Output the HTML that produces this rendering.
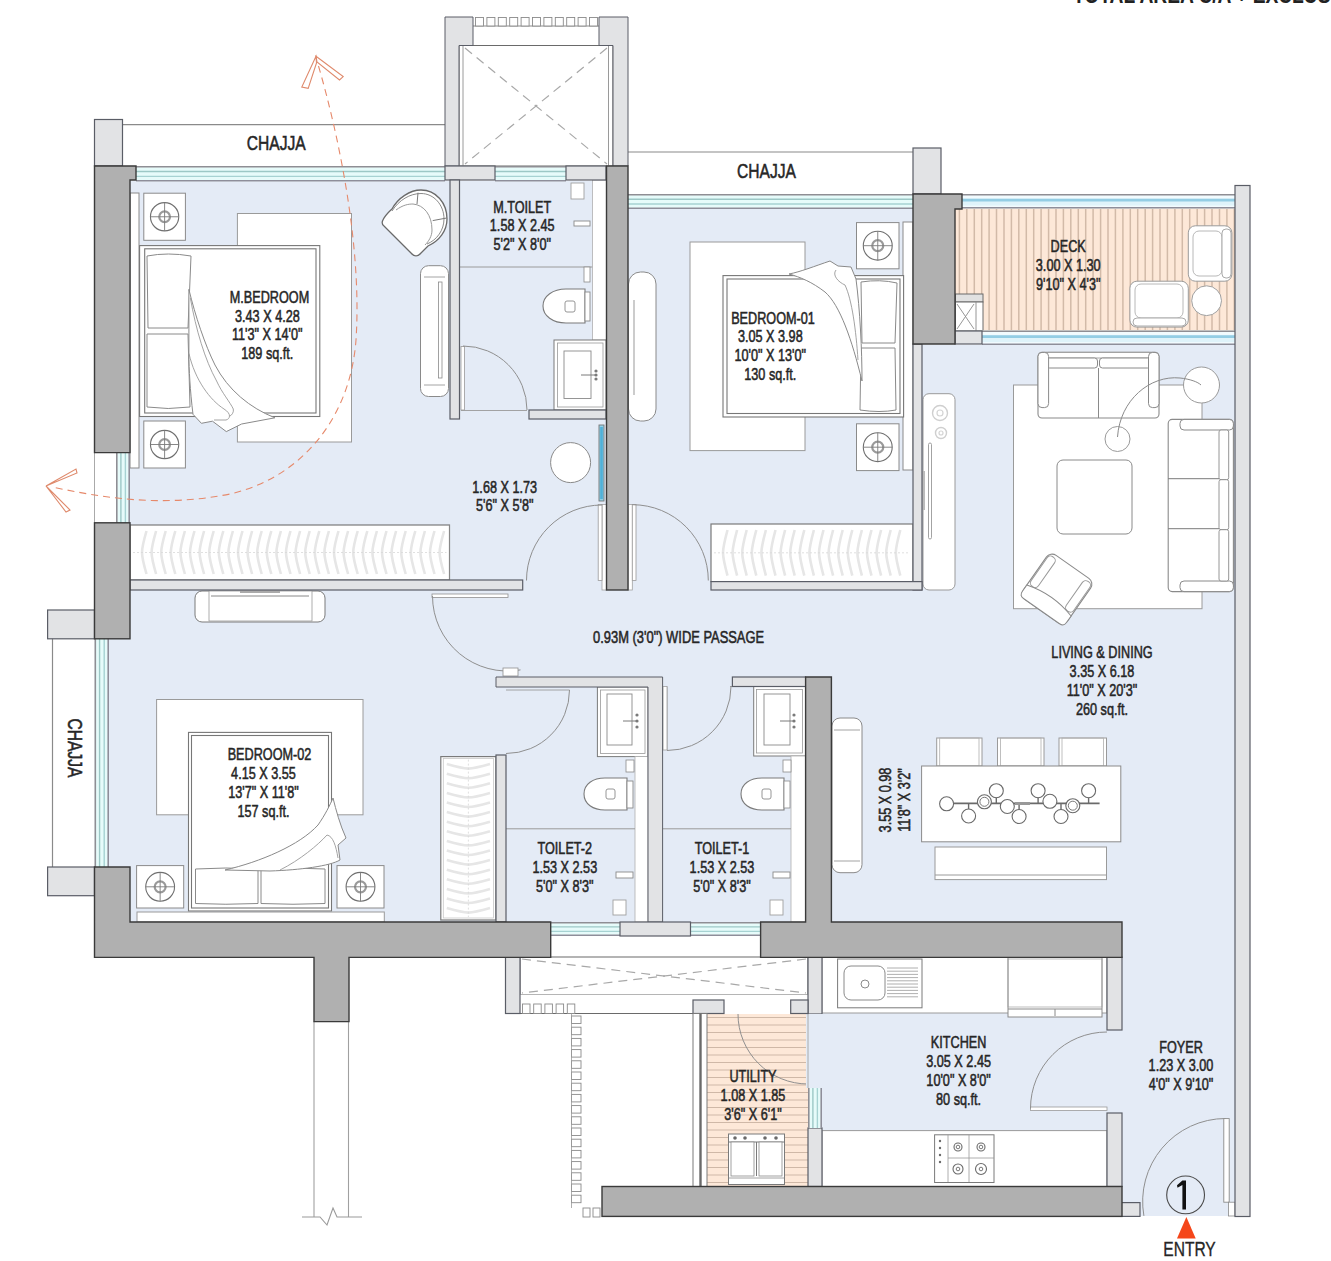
<!DOCTYPE html>
<html><head><meta charset="utf-8"><style>
html,body{margin:0;padding:0;background:#fff;}
svg{display:block;font-family:"Liberation Sans",sans-serif;}
</style></head><body>
<svg width="1331" height="1261" viewBox="0 0 1331 1261">
<rect width="1331" height="1261" fill="#fff"/>
<rect x="130" y="181" width="476" height="409" fill="#e4ebf6" stroke="none" stroke-width="1" />
<rect x="628" y="209" width="285" height="381" fill="#e4ebf6" stroke="none" stroke-width="1" />
<rect x="109" y="590" width="1126" height="332" fill="#e4ebf6" stroke="none" stroke-width="1" />
<rect x="913" y="345" width="322" height="245" fill="#e4ebf6" stroke="none" stroke-width="1" />
<rect x="822" y="957" width="413" height="259" fill="#e4ebf6" stroke="none" stroke-width="1" />
<rect x="1122" y="920" width="113" height="40" fill="#e4ebf6" stroke="none" stroke-width="1" />
<rect x="955" y="208" width="280" height="123" fill="#fde8d8" stroke="none" stroke-width="1" />
<line x1="959.4" y1="209" x2="959.4" y2="330" stroke="#d2baa8" stroke-width="1.5" />
<line x1="966.8" y1="209" x2="966.8" y2="330" stroke="#d2baa8" stroke-width="1.5" />
<line x1="974.3" y1="209" x2="974.3" y2="330" stroke="#d2baa8" stroke-width="1.5" />
<line x1="981.7" y1="209" x2="981.7" y2="330" stroke="#d2baa8" stroke-width="1.5" />
<line x1="989.1" y1="209" x2="989.1" y2="330" stroke="#d2baa8" stroke-width="1.5" />
<line x1="996.5" y1="209" x2="996.5" y2="330" stroke="#d2baa8" stroke-width="1.5" />
<line x1="1004.0" y1="209" x2="1004.0" y2="330" stroke="#d2baa8" stroke-width="1.5" />
<line x1="1011.4" y1="209" x2="1011.4" y2="330" stroke="#d2baa8" stroke-width="1.5" />
<line x1="1018.8" y1="209" x2="1018.8" y2="330" stroke="#d2baa8" stroke-width="1.5" />
<line x1="1026.3" y1="209" x2="1026.3" y2="330" stroke="#d2baa8" stroke-width="1.5" />
<line x1="1033.7" y1="209" x2="1033.7" y2="330" stroke="#d2baa8" stroke-width="1.5" />
<line x1="1041.1" y1="209" x2="1041.1" y2="330" stroke="#d2baa8" stroke-width="1.5" />
<line x1="1048.6" y1="209" x2="1048.6" y2="330" stroke="#d2baa8" stroke-width="1.5" />
<line x1="1056.0" y1="209" x2="1056.0" y2="330" stroke="#d2baa8" stroke-width="1.5" />
<line x1="1063.4" y1="209" x2="1063.4" y2="330" stroke="#d2baa8" stroke-width="1.5" />
<line x1="1070.8" y1="209" x2="1070.8" y2="330" stroke="#d2baa8" stroke-width="1.5" />
<line x1="1078.3" y1="209" x2="1078.3" y2="330" stroke="#d2baa8" stroke-width="1.5" />
<line x1="1085.7" y1="209" x2="1085.7" y2="330" stroke="#d2baa8" stroke-width="1.5" />
<line x1="1093.1" y1="209" x2="1093.1" y2="330" stroke="#d2baa8" stroke-width="1.5" />
<line x1="1100.6" y1="209" x2="1100.6" y2="330" stroke="#d2baa8" stroke-width="1.5" />
<line x1="1108.0" y1="209" x2="1108.0" y2="330" stroke="#d2baa8" stroke-width="1.5" />
<line x1="1115.4" y1="209" x2="1115.4" y2="330" stroke="#d2baa8" stroke-width="1.5" />
<line x1="1122.9" y1="209" x2="1122.9" y2="330" stroke="#d2baa8" stroke-width="1.5" />
<line x1="1130.3" y1="209" x2="1130.3" y2="330" stroke="#d2baa8" stroke-width="1.5" />
<line x1="1137.7" y1="209" x2="1137.7" y2="330" stroke="#d2baa8" stroke-width="1.5" />
<line x1="1145.2" y1="209" x2="1145.2" y2="330" stroke="#d2baa8" stroke-width="1.5" />
<line x1="1152.6" y1="209" x2="1152.6" y2="330" stroke="#d2baa8" stroke-width="1.5" />
<line x1="1160.0" y1="209" x2="1160.0" y2="330" stroke="#d2baa8" stroke-width="1.5" />
<line x1="1167.4" y1="209" x2="1167.4" y2="330" stroke="#d2baa8" stroke-width="1.5" />
<line x1="1174.9" y1="209" x2="1174.9" y2="330" stroke="#d2baa8" stroke-width="1.5" />
<line x1="1182.3" y1="209" x2="1182.3" y2="330" stroke="#d2baa8" stroke-width="1.5" />
<line x1="1189.7" y1="209" x2="1189.7" y2="330" stroke="#d2baa8" stroke-width="1.5" />
<line x1="1197.2" y1="209" x2="1197.2" y2="330" stroke="#d2baa8" stroke-width="1.5" />
<line x1="1204.6" y1="209" x2="1204.6" y2="330" stroke="#d2baa8" stroke-width="1.5" />
<line x1="1212.0" y1="209" x2="1212.0" y2="330" stroke="#d2baa8" stroke-width="1.5" />
<line x1="1219.5" y1="209" x2="1219.5" y2="330" stroke="#d2baa8" stroke-width="1.5" />
<line x1="1226.9" y1="209" x2="1226.9" y2="330" stroke="#d2baa8" stroke-width="1.5" />
<line x1="1234.3" y1="209" x2="1234.3" y2="330" stroke="#d2baa8" stroke-width="1.5" />
<rect x="707" y="1014" width="101" height="172" fill="#fde8d8" stroke="none" stroke-width="1" />
<line x1="707" y1="1017.5" x2="808" y2="1017.5" stroke="#cfb8a7" stroke-width="1.2" />
<line x1="707" y1="1025.0" x2="808" y2="1025.0" stroke="#cfb8a7" stroke-width="1.2" />
<line x1="707" y1="1032.5" x2="808" y2="1032.5" stroke="#cfb8a7" stroke-width="1.2" />
<line x1="707" y1="1040.0" x2="808" y2="1040.0" stroke="#cfb8a7" stroke-width="1.2" />
<line x1="707" y1="1047.5" x2="808" y2="1047.5" stroke="#cfb8a7" stroke-width="1.2" />
<line x1="707" y1="1055.0" x2="808" y2="1055.0" stroke="#cfb8a7" stroke-width="1.2" />
<line x1="707" y1="1062.5" x2="808" y2="1062.5" stroke="#cfb8a7" stroke-width="1.2" />
<line x1="707" y1="1070.0" x2="808" y2="1070.0" stroke="#cfb8a7" stroke-width="1.2" />
<line x1="707" y1="1077.5" x2="808" y2="1077.5" stroke="#cfb8a7" stroke-width="1.2" />
<line x1="707" y1="1085.0" x2="808" y2="1085.0" stroke="#cfb8a7" stroke-width="1.2" />
<line x1="707" y1="1092.5" x2="808" y2="1092.5" stroke="#cfb8a7" stroke-width="1.2" />
<line x1="707" y1="1100.0" x2="808" y2="1100.0" stroke="#cfb8a7" stroke-width="1.2" />
<line x1="707" y1="1107.5" x2="808" y2="1107.5" stroke="#cfb8a7" stroke-width="1.2" />
<line x1="707" y1="1115.0" x2="808" y2="1115.0" stroke="#cfb8a7" stroke-width="1.2" />
<line x1="707" y1="1122.5" x2="808" y2="1122.5" stroke="#cfb8a7" stroke-width="1.2" />
<line x1="707" y1="1130.0" x2="808" y2="1130.0" stroke="#cfb8a7" stroke-width="1.2" />
<line x1="707" y1="1137.5" x2="808" y2="1137.5" stroke="#cfb8a7" stroke-width="1.2" />
<line x1="707" y1="1145.0" x2="808" y2="1145.0" stroke="#cfb8a7" stroke-width="1.2" />
<line x1="707" y1="1152.5" x2="808" y2="1152.5" stroke="#cfb8a7" stroke-width="1.2" />
<line x1="707" y1="1160.0" x2="808" y2="1160.0" stroke="#cfb8a7" stroke-width="1.2" />
<line x1="707" y1="1167.5" x2="808" y2="1167.5" stroke="#cfb8a7" stroke-width="1.2" />
<line x1="707" y1="1175.0" x2="808" y2="1175.0" stroke="#cfb8a7" stroke-width="1.2" />
<line x1="707" y1="1182.5" x2="808" y2="1182.5" stroke="#cfb8a7" stroke-width="1.2" />
<rect x="459" y="45.5" width="154" height="120.5" fill="#ffffff" stroke="#6a6a6a" stroke-width="1" />
<line x1="463" y1="45.5" x2="463" y2="166" stroke="#9a9a9a" stroke-width="1" />
<line x1="608.5" y1="45.5" x2="608.5" y2="166" stroke="#9a9a9a" stroke-width="1" />
<line x1="465" y1="48" x2="607" y2="164" stroke="#a8a8a8" stroke-width="1.2" stroke-dasharray="9,6"/>
<line x1="607" y1="48" x2="465" y2="164" stroke="#a8a8a8" stroke-width="1.2" stroke-dasharray="9,6"/>
<line x1="473" y1="26" x2="599" y2="26" stroke="#8a8a8a" stroke-width="1" />
<rect x="475.5" y="17.5" width="8.0" height="8.5" fill="#ffffff" stroke="#8a8a8a" stroke-width="0.9" />
<rect x="486.9" y="17.5" width="8.0" height="8.5" fill="#ffffff" stroke="#8a8a8a" stroke-width="0.9" />
<rect x="498.3" y="17.5" width="8.0" height="8.5" fill="#ffffff" stroke="#8a8a8a" stroke-width="0.9" />
<rect x="509.7" y="17.5" width="8.0" height="8.5" fill="#ffffff" stroke="#8a8a8a" stroke-width="0.9" />
<rect x="521.1" y="17.5" width="8.0" height="8.5" fill="#ffffff" stroke="#8a8a8a" stroke-width="0.9" />
<rect x="532.5" y="17.5" width="8.0" height="8.5" fill="#ffffff" stroke="#8a8a8a" stroke-width="0.9" />
<rect x="543.9" y="17.5" width="8.0" height="8.5" fill="#ffffff" stroke="#8a8a8a" stroke-width="0.9" />
<rect x="555.3" y="17.5" width="8.0" height="8.5" fill="#ffffff" stroke="#8a8a8a" stroke-width="0.9" />
<rect x="566.7" y="17.5" width="8.0" height="8.5" fill="#ffffff" stroke="#8a8a8a" stroke-width="0.9" />
<rect x="578.1" y="17.5" width="8.0" height="8.5" fill="#ffffff" stroke="#8a8a8a" stroke-width="0.9" />
<rect x="589.5" y="17.5" width="8.0" height="8.5" fill="#ffffff" stroke="#8a8a8a" stroke-width="0.9" />
<rect x="520" y="957" width="288" height="37.5" fill="#ffffff" stroke="#6a6a6a" stroke-width="1" />
<line x1="522" y1="959" x2="806" y2="993" stroke="#a8a8a8" stroke-width="1.2" stroke-dasharray="9,6"/>
<line x1="806" y1="959" x2="522" y2="993" stroke="#a8a8a8" stroke-width="1.2" stroke-dasharray="9,6"/>
<rect x="520" y="994.5" width="288" height="19.0" fill="#ffffff" stroke="none" stroke-width="1" />
<line x1="505.5" y1="1013.5" x2="693" y2="1013.5" stroke="#6a6a6a" stroke-width="1" />
<rect x="522.5" y="1004" width="7.5" height="9.5" fill="#ffffff" stroke="#8a8a8a" stroke-width="0.9" />
<rect x="533.7" y="1004" width="7.5" height="9.5" fill="#ffffff" stroke="#8a8a8a" stroke-width="0.9" />
<rect x="544.9" y="1004" width="7.5" height="9.5" fill="#ffffff" stroke="#8a8a8a" stroke-width="0.9" />
<rect x="556.1" y="1004" width="7.5" height="9.5" fill="#ffffff" stroke="#8a8a8a" stroke-width="0.9" />
<rect x="567.3" y="1004" width="7.5" height="9.5" fill="#ffffff" stroke="#8a8a8a" stroke-width="0.9" />
<rect x="571.5" y="1016" width="9.5" height="7.5" fill="#ffffff" stroke="#8a8a8a" stroke-width="0.9" />
<rect x="571.5" y="1027.2" width="9.5" height="7.5" fill="#ffffff" stroke="#8a8a8a" stroke-width="0.9" />
<rect x="571.5" y="1038.4" width="9.5" height="7.5" fill="#ffffff" stroke="#8a8a8a" stroke-width="0.9" />
<rect x="571.5" y="1049.6" width="9.5" height="7.5" fill="#ffffff" stroke="#8a8a8a" stroke-width="0.9" />
<rect x="571.5" y="1060.8" width="9.5" height="7.5" fill="#ffffff" stroke="#8a8a8a" stroke-width="0.9" />
<rect x="571.5" y="1072.0" width="9.5" height="7.5" fill="#ffffff" stroke="#8a8a8a" stroke-width="0.9" />
<rect x="571.5" y="1083.2" width="9.5" height="7.5" fill="#ffffff" stroke="#8a8a8a" stroke-width="0.9" />
<rect x="571.5" y="1094.4" width="9.5" height="7.5" fill="#ffffff" stroke="#8a8a8a" stroke-width="0.9" />
<rect x="571.5" y="1105.6" width="9.5" height="7.5" fill="#ffffff" stroke="#8a8a8a" stroke-width="0.9" />
<rect x="571.5" y="1116.8" width="9.5" height="7.5" fill="#ffffff" stroke="#8a8a8a" stroke-width="0.9" />
<rect x="571.5" y="1128.0" width="9.5" height="7.5" fill="#ffffff" stroke="#8a8a8a" stroke-width="0.9" />
<rect x="571.5" y="1139.2" width="9.5" height="7.5" fill="#ffffff" stroke="#8a8a8a" stroke-width="0.9" />
<rect x="571.5" y="1150.4" width="9.5" height="7.5" fill="#ffffff" stroke="#8a8a8a" stroke-width="0.9" />
<rect x="571.5" y="1161.6" width="9.5" height="7.5" fill="#ffffff" stroke="#8a8a8a" stroke-width="0.9" />
<rect x="571.5" y="1172.8" width="9.5" height="7.5" fill="#ffffff" stroke="#8a8a8a" stroke-width="0.9" />
<rect x="571.5" y="1184.0" width="9.5" height="7.5" fill="#ffffff" stroke="#8a8a8a" stroke-width="0.9" />
<rect x="571.5" y="1195.2" width="9.5" height="7.5" fill="#ffffff" stroke="#8a8a8a" stroke-width="0.9" />
<rect x="583" y="1208" width="7" height="9" fill="#ffffff" stroke="#8a8a8a" stroke-width="0.9" />
<rect x="593" y="1208" width="7" height="9" fill="#ffffff" stroke="#8a8a8a" stroke-width="0.9" />
<line x1="571.5" y1="1013.5" x2="571.5" y2="1208" stroke="#9a9a9a" stroke-width="0.8" />
<line x1="314" y1="1021.6" x2="314" y2="1217" stroke="#a0a0a0" stroke-width="1.1" />
<line x1="348.5" y1="1021.6" x2="348.5" y2="1217" stroke="#a0a0a0" stroke-width="1.1" />
<path d="M302,1217 L320,1217 L327,1225 L333,1208 L337,1217 L362,1217" fill="none" stroke="#9a9a9a" stroke-width="1.1" />
<rect x="130" y="193" width="9" height="275" fill="#ffffff" stroke="#8a8a8a" stroke-width="1" />
<rect x="237.4" y="213.5" width="114.1" height="228.5" fill="#ffffff" stroke="#9a9a9a" stroke-width="1" />
<rect x="143.8" y="193.2" width="41.6" height="47.1" fill="#ffffff" stroke="#8a8a8a" stroke-width="1" />
<circle cx="164.60000000000002" cy="216.75" r="14.143999999999998" fill="#ffffff" stroke="#6f6f6f" stroke-width="1.1"/>
<circle cx="164.60000000000002" cy="216.75" r="5.374719999999999" fill="none" stroke="#9a9a9a" stroke-width="2.2"/>
<line x1="150.45600000000002" y1="216.75" x2="178.74400000000003" y2="216.75" stroke="#7a7a7a" stroke-width="0.9" />
<line x1="164.60000000000002" y1="202.606" x2="164.60000000000002" y2="230.894" stroke="#7a7a7a" stroke-width="0.9" />
<rect x="143.8" y="421" width="41.6" height="47" fill="#ffffff" stroke="#8a8a8a" stroke-width="1" />
<circle cx="164.60000000000002" cy="444.5" r="14.143999999999998" fill="#ffffff" stroke="#6f6f6f" stroke-width="1.1"/>
<circle cx="164.60000000000002" cy="444.5" r="5.374719999999999" fill="none" stroke="#9a9a9a" stroke-width="2.2"/>
<line x1="150.45600000000002" y1="444.5" x2="178.74400000000003" y2="444.5" stroke="#7a7a7a" stroke-width="0.9" />
<line x1="164.60000000000002" y1="430.356" x2="164.60000000000002" y2="458.644" stroke="#7a7a7a" stroke-width="0.9" />
<rect x="139.6" y="245.6" width="180.2" height="170.9" fill="#ffffff" stroke="#777" stroke-width="1.1" />
<rect x="144.7" y="248.8" width="171.3" height="164.2" fill="#ffffff" stroke="#777" stroke-width="1.1" />
<path d="M147,256 Q168,252 191,256 L188,328 L148,328 Z" fill="#ffffff" stroke="#8a8a8a" stroke-width="1" />
<path d="M147,334 L188,334 L190,407 Q168,410 147,407 Z" fill="#ffffff" stroke="#8a8a8a" stroke-width="1" />
<path d="M188.9,289.4 C195,315 205,345 215,365 C228,390 250,408 274.9,417.8 L241.6,424 L226.3,431.6 L212.5,421.2 L201.4,423.3 L193,414.3 C190,390 189,370 188.9,353.3 Z" fill="#ffffff" stroke="#8a8a8a" stroke-width="1" />
<path d="M188.9,353.3 C195,380 210,400 224,409 C232,414 230,419 226,420 L214,420" fill="none" stroke="#9a9a9a" stroke-width="0.9" />
<path d="M190.3,297.8 C196,330 205,360 216.6,381 C222,393 230,402 233.3,409 C234,412 232,415 230,416" fill="none" stroke="#9a9a9a" stroke-width="0.9" />
<path d="M382.5,221 C385,215 390,211 392,209 C398,198 410,190 421,190 C436,190 447,203 447,219 C447,231 439,241 428,246 L420,254 C418,256.5 414,256.5 412,254 L384,226 C382,224.5 382,222.5 382.5,221 Z" fill="#ffffff" stroke="#6a6a6a" stroke-width="1.3" />
<path d="M392,211 C399,200 410,193.5 421,193.5 C434,193.5 444,205 444,219 C444,230 437,240 427,244" fill="none" stroke="#8a8a8a" stroke-width="1" />
<path d="M396,210 C403,205 408,204 413,204 C424,205 432,215 432,230 C432,236 429,241 425,245" fill="none" stroke="#9a9a9a" stroke-width="1" />
<line x1="418" y1="192.7" x2="417" y2="204" stroke="#7a7a7a" stroke-width="1" />
<line x1="432.7" y1="220.6" x2="446.7" y2="218" stroke="#7a7a7a" stroke-width="1" />
<rect x="420.5" y="265.7" width="28.0" height="130.8" rx="8" fill="#ffffff" stroke="#8a8a8a" stroke-width="1"/>
<line x1="424" y1="277" x2="445" y2="277" stroke="#9a9a9a" stroke-width="0.9" />
<line x1="424" y1="385" x2="445" y2="385" stroke="#9a9a9a" stroke-width="0.9" />
<rect x="438.5" y="282" width="3.5" height="96" fill="none" stroke="#8a8a8a" stroke-width="0.8" />
<line x1="459" y1="267" x2="593" y2="267" stroke="#9a9a9a" stroke-width="1" />
<rect x="592.5" y="180" width="14.0" height="160" fill="#ffffff" stroke="#b0b0b0" stroke-width="0.8" />
<rect x="571" y="183" width="13" height="16" fill="#ffffff" stroke="#a0a0a0" stroke-width="0.9" />
<rect x="574" y="221" width="16" height="5" fill="#ffffff" stroke="#8a8a8a" stroke-width="0.9" />
<path d="M543,306 C543,296 553,289 566,289 L585,289 L585,323 L566,323 C553,323 543,316 543,306 Z" fill="#ffffff" stroke="#7a7a7a" stroke-width="1.1" />
<rect x="565" y="301" width="10" height="11" rx="2" fill="none" stroke="#8a8a8a" stroke-width="0.9"/>
<rect x="585" y="292" width="5" height="29" fill="#ffffff" stroke="#8a8a8a" stroke-width="0.9" />
<rect x="584" y="267" width="6" height="15" fill="#ffffff" stroke="#8a8a8a" stroke-width="0.8" />
<rect x="554" y="340" width="52" height="70" fill="#ffffff" stroke="#7a7a7a" stroke-width="1" />
<rect x="557.5" y="343" width="45.5" height="64" fill="#ffffff" stroke="#9a9a9a" stroke-width="0.8" />
<rect x="564" y="351" width="27" height="47.5" fill="#ffffff" stroke="#8a8a8a" stroke-width="0.9" />
<line x1="581" y1="375" x2="596" y2="375" stroke="#7a7a7a" stroke-width="1" />
<circle cx="596" cy="371" r="1.6" fill="#7a7a7a" stroke="none" stroke-width="1"/>
<circle cx="596" cy="375" r="1.6" fill="#7a7a7a" stroke="none" stroke-width="1"/>
<circle cx="596" cy="379" r="1.6" fill="#7a7a7a" stroke="none" stroke-width="1"/>
<line x1="463" y1="346.5" x2="463" y2="410" stroke="#8f8f8f" stroke-width="1" />
<rect x="461" y="346.5" width="3.5" height="63.5" fill="#ffffff" stroke="#9a9a9a" stroke-width="0.8" />
<path d="M463.0,346.0 A64,64 0 0 1 527.0,410.0" fill="none" stroke="#8f8f8f" stroke-width="1" />
<line x1="461" y1="410.5" x2="527" y2="410.5" stroke="#9a9a9a" stroke-width="0.9" />
<circle cx="570.6" cy="462.6" r="20" fill="#ffffff" stroke="#8a8a8a" stroke-width="1"/>
<rect x="599" y="425" width="5" height="76" fill="#8fd0e8" stroke="#777" stroke-width="0.9" />
<rect x="600.2" y="427" width="2.6" height="72" fill="#4fb0d8" stroke="none" stroke-width="1" />
<rect x="602" y="504.5" width="4.5" height="85.5" fill="#ffffff" stroke="#a0a0a0" stroke-width="0.8" />
<rect x="598.2" y="504.5" width="3.8" height="76.0" fill="#ffffff" stroke="#9a9a9a" stroke-width="0.8" />
<path d="M526.5,580.5 A75.5,75.5 0 0 1 602.0,505.0" fill="none" stroke="#8f8f8f" stroke-width="1" />
<rect x="628" y="504.5" width="4.3" height="85.5" fill="#ffffff" stroke="#a0a0a0" stroke-width="0.8" />
<rect x="632.3" y="504.5" width="3.7" height="76.0" fill="#ffffff" stroke="#9a9a9a" stroke-width="0.8" />
<path d="M632.5,504.7 A75.8,75.8 0 0 1 708.3,580.5" fill="none" stroke="#8f8f8f" stroke-width="1" />
<rect x="130" y="525" width="319.5" height="55" fill="#ffffff" stroke="#7a7a7a" stroke-width="1.2" />
<path d="M146.5,531 Q142.0,546.5 142.0,552.5 Q142.0,558.5 146.5,574 M156.1,531 Q151.6,546.5 151.6,552.5 Q151.6,558.5 156.1,574 M165.7,531 Q161.2,546.5 161.2,552.5 Q161.2,558.5 165.7,574 M175.3,531 Q170.8,546.5 170.8,552.5 Q170.8,558.5 175.3,574 M184.9,531 Q180.4,546.5 180.4,552.5 Q180.4,558.5 184.9,574 M194.5,531 Q190.0,546.5 190.0,552.5 Q190.0,558.5 194.5,574 M204.1,531 Q199.6,546.5 199.6,552.5 Q199.6,558.5 204.1,574 M213.7,531 Q209.2,546.5 209.2,552.5 Q209.2,558.5 213.7,574 M223.3,531 Q218.8,546.5 218.8,552.5 Q218.8,558.5 223.3,574 M232.9,531 Q228.4,546.5 228.4,552.5 Q228.4,558.5 232.9,574 M242.5,531 Q238.0,546.5 238.0,552.5 Q238.0,558.5 242.5,574 M252.1,531 Q247.6,546.5 247.6,552.5 Q247.6,558.5 252.1,574 M261.7,531 Q257.2,546.5 257.2,552.5 Q257.2,558.5 261.7,574 M271.3,531 Q266.8,546.5 266.8,552.5 Q266.8,558.5 271.3,574 M280.9,531 Q276.4,546.5 276.4,552.5 Q276.4,558.5 280.9,574 M290.5,531 Q286.0,546.5 286.0,552.5 Q286.0,558.5 290.5,574 M300.1,531 Q295.6,546.5 295.6,552.5 Q295.6,558.5 300.1,574 M309.7,531 Q305.2,546.5 305.2,552.5 Q305.2,558.5 309.7,574 M319.3,531 Q314.8,546.5 314.8,552.5 Q314.8,558.5 319.3,574 M328.9,531 Q324.4,546.5 324.4,552.5 Q324.4,558.5 328.9,574 M338.5,531 Q334.0,546.5 334.0,552.5 Q334.0,558.5 338.5,574 M348.1,531 Q343.6,546.5 343.6,552.5 Q343.6,558.5 348.1,574 M357.7,531 Q353.2,546.5 353.2,552.5 Q353.2,558.5 357.7,574 M367.3,531 Q362.8,546.5 362.8,552.5 Q362.8,558.5 367.3,574 M376.9,531 Q372.4,546.5 372.4,552.5 Q372.4,558.5 376.9,574 M386.5,531 Q382.0,546.5 382.0,552.5 Q382.0,558.5 386.5,574 M396.1,531 Q391.6,546.5 391.6,552.5 Q391.6,558.5 396.1,574 M405.7,531 Q401.2,546.5 401.2,552.5 Q401.2,558.5 405.7,574 M415.3,531 Q410.8,546.5 410.8,552.5 Q410.8,558.5 415.3,574 M424.9,531 Q420.4,546.5 420.4,552.5 Q420.4,558.5 424.9,574 M434.5,531 Q430.0,546.5 430.0,552.5 Q430.0,558.5 434.5,574 M444.1,531 Q439.6,546.5 439.6,552.5 Q439.6,558.5 444.1,574 " fill="none" stroke="#e6e6e6" stroke-width="2.6" />
<line x1="133" y1="552.5" x2="446.5" y2="552.5" stroke="#d8d8d8" stroke-width="0.8" stroke-dasharray="2,2"/>
<line x1="449.5" y1="580" x2="449.5" y2="525" stroke="#888" stroke-width="1" />
<rect x="195" y="591" width="130" height="31" rx="7" fill="#ffffff" stroke="#7a7a7a" stroke-width="1"/>
<rect x="209" y="591" width="103" height="30" fill="#ffffff" stroke="#9a9a9a" stroke-width="0.8" />
<line x1="211" y1="596" x2="309" y2="596" stroke="#888" stroke-width="1" />
<rect x="240" y="590" width="40" height="3" fill="#aaa" stroke="none" stroke-width="1" />
<rect x="432" y="594" width="76" height="3.5" fill="#ffffff" stroke="#8f8f8f" stroke-width="0.8" />
<path d="M520.5,669.9 A75,75 0 0 1 432.5,596.0" fill="none" stroke="#8f8f8f" stroke-width="1" />
<rect x="503" y="668" width="15" height="8" fill="#ffffff" stroke="#8f8f8f" stroke-width="0.8" />
<rect x="690" y="242" width="115" height="208.6" fill="#ffffff" stroke="#9a9a9a" stroke-width="1" />
<rect x="903" y="222" width="10" height="248" fill="#ffffff" stroke="#8a8a8a" stroke-width="1" />
<rect x="856.5" y="222.6" width="42.5" height="46.2" fill="#ffffff" stroke="#8a8a8a" stroke-width="1" />
<circle cx="877.75" cy="245.7" r="14.450000000000001" fill="#ffffff" stroke="#6f6f6f" stroke-width="1.1"/>
<circle cx="877.75" cy="245.7" r="5.4910000000000005" fill="none" stroke="#9a9a9a" stroke-width="2.2"/>
<line x1="863.3" y1="245.7" x2="892.2" y2="245.7" stroke="#7a7a7a" stroke-width="0.9" />
<line x1="877.75" y1="231.25" x2="877.75" y2="260.15" stroke="#7a7a7a" stroke-width="0.9" />
<rect x="856.5" y="423.8" width="42.5" height="46.8" fill="#ffffff" stroke="#8a8a8a" stroke-width="1" />
<circle cx="877.75" cy="447.20000000000005" r="14.450000000000001" fill="#ffffff" stroke="#6f6f6f" stroke-width="1.1"/>
<circle cx="877.75" cy="447.20000000000005" r="5.4910000000000005" fill="none" stroke="#9a9a9a" stroke-width="2.2"/>
<line x1="863.3" y1="447.20000000000005" x2="892.2" y2="447.20000000000005" stroke="#7a7a7a" stroke-width="0.9" />
<line x1="877.75" y1="432.75000000000006" x2="877.75" y2="461.65000000000003" stroke="#7a7a7a" stroke-width="0.9" />
<rect x="723" y="275.6" width="180.6" height="141.4" fill="#ffffff" stroke="#777" stroke-width="1.1" />
<rect x="727" y="279" width="173" height="134.5" fill="#ffffff" stroke="#777" stroke-width="1.1" />
<path d="M861,282 Q880,279 897,283 L895,343 L862,343 Z" fill="#ffffff" stroke="#8a8a8a" stroke-width="1" />
<path d="M861,348 L895,348 L896,410 Q880,413 860,410 Z" fill="#ffffff" stroke="#8a8a8a" stroke-width="1" />
<path d="M789,274 C800,272 815,266 830,261 L838,266 L851,267 L856,279 C860,310 862,350 862,381 C852,340 840,305 825,292 C812,282 800,277 789,274 Z" fill="#ffffff" stroke="#8a8a8a" stroke-width="1" />
<path d="M836,270 C832,275 838,282 845,285 C852,300 856,330 858,360" fill="none" stroke="#999" stroke-width="0.9" />
<rect x="628.5" y="272" width="27.5" height="149" rx="12" fill="#ffffff" stroke="#8a8a8a" stroke-width="1"/>
<line x1="634" y1="300" x2="634" y2="395" stroke="#999" stroke-width="1" />
<rect x="711" y="524" width="202" height="57.6" fill="#ffffff" stroke="#7a7a7a" stroke-width="1.2" />
<path d="M727.5,530 Q723.0,546.8 723.0,552.8 Q723.0,558.8 727.5,575.6 M737.1,530 Q732.6,546.8 732.6,552.8 Q732.6,558.8 737.1,575.6 M746.7,530 Q742.2,546.8 742.2,552.8 Q742.2,558.8 746.7,575.6 M756.3,530 Q751.8,546.8 751.8,552.8 Q751.8,558.8 756.3,575.6 M765.9,530 Q761.4,546.8 761.4,552.8 Q761.4,558.8 765.9,575.6 M775.5,530 Q771.0,546.8 771.0,552.8 Q771.0,558.8 775.5,575.6 M785.1,530 Q780.6,546.8 780.6,552.8 Q780.6,558.8 785.1,575.6 M794.7,530 Q790.2,546.8 790.2,552.8 Q790.2,558.8 794.7,575.6 M804.3,530 Q799.8,546.8 799.8,552.8 Q799.8,558.8 804.3,575.6 M813.9,530 Q809.4,546.8 809.4,552.8 Q809.4,558.8 813.9,575.6 M823.5,530 Q819.0,546.8 819.0,552.8 Q819.0,558.8 823.5,575.6 M833.1,530 Q828.6,546.8 828.6,552.8 Q828.6,558.8 833.1,575.6 M842.7,530 Q838.2,546.8 838.2,552.8 Q838.2,558.8 842.7,575.6 M852.3,530 Q847.8,546.8 847.8,552.8 Q847.8,558.8 852.3,575.6 M861.9,530 Q857.4,546.8 857.4,552.8 Q857.4,558.8 861.9,575.6 M871.5,530 Q867.0,546.8 867.0,552.8 Q867.0,558.8 871.5,575.6 M881.1,530 Q876.6,546.8 876.6,552.8 Q876.6,558.8 881.1,575.6 M890.7,530 Q886.2,546.8 886.2,552.8 Q886.2,558.8 890.7,575.6 M900.3,530 Q895.8,546.8 895.8,552.8 Q895.8,558.8 900.3,575.6 " fill="none" stroke="#e6e6e6" stroke-width="2.6" />
<line x1="714" y1="552.8" x2="910" y2="552.8" stroke="#d8d8d8" stroke-width="0.8" stroke-dasharray="2,2"/>
<rect x="955.5" y="294" width="27.5" height="8" fill="#e1e1e1" stroke="#6a6a6a" stroke-width="1" />
<rect x="955.5" y="302" width="27.5" height="29" fill="#ffffff" stroke="#6a6a6a" stroke-width="1" />
<line x1="957" y1="304" x2="974" y2="329" stroke="#8a8a8a" stroke-width="0.9" />
<line x1="974" y1="304" x2="957" y2="329" stroke="#8a8a8a" stroke-width="0.9" />
<line x1="976" y1="302" x2="976" y2="331" stroke="#8a8a8a" stroke-width="0.9" />
<rect x="1188.3" y="225.8" width="43.6" height="55.4" rx="7" fill="#ffffff" stroke="#9a9a9a" stroke-width="1"/>
<rect x="1193" y="231" width="29" height="45" rx="6" fill="#ffffff" stroke="#b0b0b0" stroke-width="0.9"/>
<rect x="1222" y="229" width="9" height="49" rx="4" fill="#ffffff" stroke="#a0a0a0" stroke-width="0.9"/>
<rect x="1129.9" y="281.2" width="58.4" height="45.9" rx="7" fill="#ffffff" stroke="#9a9a9a" stroke-width="1"/>
<rect x="1135" y="284" width="48" height="34" rx="6" fill="#ffffff" stroke="#b0b0b0" stroke-width="0.9"/>
<rect x="1133" y="318" width="53" height="8" rx="4" fill="#ffffff" stroke="#a0a0a0" stroke-width="0.9"/>
<circle cx="1206.6" cy="300.7" r="14.9" fill="#ffffff" stroke="#a0a0a0" stroke-width="1"/>
<rect x="923" y="393.7" width="32" height="196.3" rx="6" fill="#ffffff" stroke="#9a9a9a" stroke-width="1"/>
<circle cx="940" cy="413" r="7.5" fill="none" stroke="#cfcfcf" stroke-width="1.4"/>
<circle cx="940" cy="413" r="3" fill="none" stroke="#d4d4d4" stroke-width="1.2"/>
<circle cx="941" cy="433" r="5.5" fill="none" stroke="#cfcfcf" stroke-width="1.4"/>
<circle cx="941" cy="433" r="2" fill="none" stroke="#d4d4d4" stroke-width="1.2"/>
<rect x="928.5" y="443" width="3.0" height="96" rx="1.5" fill="#ffffff" stroke="#999" stroke-width="0.9"/>
<rect x="922" y="471" width="3" height="39" fill="#bbb" stroke="none" stroke-width="1" />
<rect x="1013.5" y="385" width="188.5" height="223.7" fill="#ffffff" stroke="#9a9a9a" stroke-width="1" />
<rect x="1038" y="352.4" width="121" height="65.6" rx="4" fill="#ffffff" stroke="#8a8a8a" stroke-width="1.1"/>
<rect x="1046" y="352.4" width="105" height="5.6" rx="2" fill="#ffffff" stroke="#9a9a9a" stroke-width="0.9"/>
<rect x="1046.5" y="358" width="51.0" height="10" rx="3" fill="#ffffff" stroke="#8a8a8a" stroke-width="1"/>
<rect x="1099.5" y="358" width="51.0" height="10" rx="3" fill="#ffffff" stroke="#8a8a8a" stroke-width="1"/>
<rect x="1038" y="352.4" width="10.6" height="55.2" rx="4" fill="#ffffff" stroke="#8a8a8a" stroke-width="1"/>
<rect x="1148.5" y="352.4" width="10.5" height="55.2" rx="4" fill="#ffffff" stroke="#8a8a8a" stroke-width="1"/>
<line x1="1098.5" y1="368" x2="1098.5" y2="418" stroke="#8a8a8a" stroke-width="1" />
<rect x="1168.2" y="419.4" width="65.2" height="172.2" rx="4" fill="#ffffff" stroke="#8a8a8a" stroke-width="1.1"/>
<rect x="1180" y="419.4" width="53.4" height="10.6" rx="4" fill="#ffffff" stroke="#8a8a8a" stroke-width="1"/>
<rect x="1180" y="581" width="53.4" height="10.6" rx="4" fill="#ffffff" stroke="#8a8a8a" stroke-width="1"/>
<rect x="1219" y="430" width="9.7" height="49.7" rx="2" fill="#ffffff" stroke="#8a8a8a" stroke-width="0.9"/>
<rect x="1219" y="479.7" width="9.7" height="50.0" rx="2" fill="#ffffff" stroke="#8a8a8a" stroke-width="0.9"/>
<rect x="1219" y="529.7" width="9.7" height="51.3" rx="2" fill="#ffffff" stroke="#8a8a8a" stroke-width="0.9"/>
<line x1="1168.2" y1="478.7" x2="1219" y2="478.7" stroke="#7a7a7a" stroke-width="1" />
<line x1="1168.2" y1="528.7" x2="1219" y2="528.7" stroke="#7a7a7a" stroke-width="1" />
<rect x="1057" y="460" width="75" height="74" rx="6" fill="#ffffff" stroke="#8a8a8a" stroke-width="1"/>
<circle cx="1201.5" cy="385" r="18" fill="#ffffff" stroke="#9a9a9a" stroke-width="1"/>
<circle cx="1117.5" cy="439" r="12.5" fill="#ffffff" stroke="#9a9a9a" stroke-width="1"/>
<path d="M1117.5,437 C1120,400 1150,375 1180,378 C1190,379 1198,382 1201,385" fill="none" stroke="#8a8a8a" stroke-width="1" />
<g transform="translate(1057,589) rotate(35)">
<rect x="-27" y="-27" width="54" height="54" rx="7" fill="#ffffff" stroke="#8a8a8a" stroke-width="1.1"/>
<rect x="-26" y="-24" width="9" height="36" rx="4" fill="#ffffff" stroke="#9a9a9a" stroke-width="1"/>
<rect x="17" y="-24" width="9" height="36" rx="4" fill="#ffffff" stroke="#9a9a9a" stroke-width="1"/>
<path d="M-27,14 C-10,9 10,9 27,14 L27,22 C27,25 25,27 22,27 L-22,27 C-25,27 -27,25 -27,22 Z" fill="#ffffff" stroke="#8a8a8a" stroke-width="1" />
</g>
<rect x="832" y="718" width="30" height="154.7" rx="8" fill="#ffffff" stroke="#8a8a8a" stroke-width="1"/>
<line x1="834" y1="730" x2="860" y2="730" stroke="#999" stroke-width="0.9" />
<line x1="834" y1="861" x2="860" y2="861" stroke="#999" stroke-width="0.9" />
<rect x="936.7" y="738" width="45.3" height="28" fill="#ffffff" stroke="#9a9a9a" stroke-width="1" />
<rect x="939.7" y="738" width="39.3" height="28" fill="none" stroke="#b0b0b0" stroke-width="0.8" />
<rect x="997.5" y="738" width="46.5" height="28" fill="#ffffff" stroke="#9a9a9a" stroke-width="1" />
<rect x="1000.5" y="738" width="40.5" height="28" fill="none" stroke="#b0b0b0" stroke-width="0.8" />
<rect x="1059" y="738" width="47.5" height="28" fill="#ffffff" stroke="#9a9a9a" stroke-width="1" />
<rect x="1062" y="738" width="41.5" height="28" fill="none" stroke="#b0b0b0" stroke-width="0.8" />
<rect x="921.6" y="766" width="199.2" height="75.8" fill="#ffffff" stroke="#8a8a8a" stroke-width="1" />
<rect x="935" y="847" width="171.5" height="32.6" fill="#ffffff" stroke="#9a9a9a" stroke-width="1" />
<line x1="935" y1="875" x2="1106.5" y2="875" stroke="#9a9a9a" stroke-width="1" />
<line x1="953.7" y1="803.4" x2="1099.6" y2="803.4" stroke="#6a6a6a" stroke-width="1.6" />
<line x1="968.6" y1="816" x2="968.6" y2="803.4" stroke="#6a6a6a" stroke-width="1.4" />
<line x1="996.3" y1="790.7" x2="996.3" y2="803.4" stroke="#6a6a6a" stroke-width="1.4" />
<line x1="1019.1" y1="816.5" x2="1019.1" y2="803.4" stroke="#6a6a6a" stroke-width="1.4" />
<line x1="1038.1" y1="790.7" x2="1038.1" y2="803.4" stroke="#6a6a6a" stroke-width="1.4" />
<line x1="1061" y1="816.5" x2="1061" y2="803.4" stroke="#6a6a6a" stroke-width="1.4" />
<line x1="1088.6" y1="790.7" x2="1088.6" y2="803.4" stroke="#6a6a6a" stroke-width="1.4" />
<circle cx="946.6" cy="803.8" r="7" fill="#ffffff" stroke="#6a6a6a" stroke-width="1.1"/>
<circle cx="968.6" cy="816" r="7" fill="#ffffff" stroke="#6a6a6a" stroke-width="1.1"/>
<circle cx="996.3" cy="790.7" r="7" fill="#ffffff" stroke="#6a6a6a" stroke-width="1.1"/>
<circle cx="984.4" cy="801.8" r="7" fill="#ffffff" stroke="#6a6a6a" stroke-width="1.1"/>
<circle cx="1007.3" cy="806.5" r="7" fill="#ffffff" stroke="#6a6a6a" stroke-width="1.1"/>
<circle cx="1019.1" cy="816.5" r="7" fill="#ffffff" stroke="#6a6a6a" stroke-width="1.1"/>
<circle cx="1038.1" cy="790.7" r="7" fill="#ffffff" stroke="#6a6a6a" stroke-width="1.1"/>
<circle cx="1049.9" cy="801.3" r="7" fill="#ffffff" stroke="#6a6a6a" stroke-width="1.1"/>
<circle cx="1061" cy="816.5" r="7" fill="#ffffff" stroke="#6a6a6a" stroke-width="1.1"/>
<circle cx="1072.8" cy="805.7" r="7" fill="#ffffff" stroke="#6a6a6a" stroke-width="1.1"/>
<circle cx="1088.6" cy="790.7" r="7" fill="#ffffff" stroke="#6a6a6a" stroke-width="1.1"/>
<circle cx="984.4" cy="801.8" r="4.5" fill="none" stroke="#7a7a7a" stroke-width="1"/>
<circle cx="1072.8" cy="805.7" r="4.5" fill="none" stroke="#7a7a7a" stroke-width="1"/>
<rect x="1015" y="802" width="15" height="3" fill="#999" stroke="none" stroke-width="1" />
<rect x="597.4" y="687" width="50.6" height="69.6" fill="#ffffff" stroke="#7a7a7a" stroke-width="1" />
<rect x="600.5" y="690" width="44.5" height="63.5" fill="#ffffff" stroke="#9a9a9a" stroke-width="0.8" />
<rect x="607" y="694" width="25" height="51" fill="#ffffff" stroke="#8a8a8a" stroke-width="0.9" />
<line x1="623" y1="721" x2="637" y2="721" stroke="#7a7a7a" stroke-width="1" />
<circle cx="637" cy="715" r="1.6" fill="#7a7a7a" stroke="none" stroke-width="1"/>
<circle cx="637" cy="721" r="1.6" fill="#7a7a7a" stroke="none" stroke-width="1"/>
<circle cx="637" cy="727" r="1.6" fill="#7a7a7a" stroke="none" stroke-width="1"/>
<rect x="635" y="756.6" width="13" height="165.4" fill="#ffffff" stroke="#b0b0b0" stroke-width="0.8" />
<line x1="506" y1="828.8" x2="635" y2="828.8" stroke="#9a9a9a" stroke-width="1" />
<path d="M584,794 C584,784 593,778 605,778 L627,778 L627,810 L605,810 C593,810 584,804 584,794 Z" fill="#ffffff" stroke="#7a7a7a" stroke-width="1.1" />
<rect x="606" y="789" width="9" height="10" rx="2" fill="none" stroke="#8a8a8a" stroke-width="0.9"/>
<rect x="627" y="781" width="6" height="27" fill="#ffffff" stroke="#8a8a8a" stroke-width="0.9" />
<rect x="626" y="760" width="8" height="12" fill="#ffffff" stroke="#8a8a8a" stroke-width="0.8" />
<rect x="616" y="872" width="17" height="6" fill="#ffffff" stroke="#8a8a8a" stroke-width="0.9" />
<rect x="613" y="900" width="13" height="15" fill="#ffffff" stroke="#a0a0a0" stroke-width="0.9" />
<line x1="506" y1="690" x2="569.5" y2="690" stroke="#9a9a9a" stroke-width="0.9" />
<path d="M569.5,690.0 A63.5,63.5 0 0 1 506.0,753.5" fill="none" stroke="#8f8f8f" stroke-width="1" />
<rect x="753.7" y="686.5" width="51.9" height="69.5" fill="#ffffff" stroke="#7a7a7a" stroke-width="1" />
<rect x="756.5" y="689.5" width="46.0" height="63.5" fill="#ffffff" stroke="#9a9a9a" stroke-width="0.8" />
<rect x="764" y="694" width="26" height="51" fill="#ffffff" stroke="#8a8a8a" stroke-width="0.9" />
<line x1="780" y1="721" x2="794" y2="721" stroke="#7a7a7a" stroke-width="1" />
<circle cx="794" cy="715" r="1.6" fill="#7a7a7a" stroke="none" stroke-width="1"/>
<circle cx="794" cy="721" r="1.6" fill="#7a7a7a" stroke="none" stroke-width="1"/>
<circle cx="794" cy="727" r="1.6" fill="#7a7a7a" stroke="none" stroke-width="1"/>
<rect x="791" y="756" width="14.6" height="166" fill="#ffffff" stroke="#b0b0b0" stroke-width="0.8" />
<line x1="662.4" y1="828.8" x2="791" y2="828.8" stroke="#9a9a9a" stroke-width="1" />
<path d="M741,794 C741,784 750,778 762,778 L784,778 L784,810 L762,810 C750,810 741,804 741,794 Z" fill="#ffffff" stroke="#7a7a7a" stroke-width="1.1" />
<rect x="762" y="789" width="9" height="10" rx="2" fill="none" stroke="#8a8a8a" stroke-width="0.9"/>
<rect x="784" y="781" width="6" height="27" fill="#ffffff" stroke="#8a8a8a" stroke-width="0.8" />
<rect x="783" y="760" width="8" height="12" fill="#ffffff" stroke="#8a8a8a" stroke-width="0.8" />
<rect x="773" y="872" width="17" height="6" fill="#ffffff" stroke="#8a8a8a" stroke-width="0.9" />
<rect x="770" y="900" width="13" height="15" fill="#ffffff" stroke="#a0a0a0" stroke-width="0.9" />
<line x1="667" y1="686.5" x2="667" y2="750" stroke="#9a9a9a" stroke-width="0.9" />
<rect x="663" y="686.5" width="4" height="63.5" fill="#ffffff" stroke="#a0a0a0" stroke-width="0.8" />
<path d="M731.0,686.5 A64,64 0 0 1 667.0,750.5" fill="none" stroke="#8f8f8f" stroke-width="1" />
<line x1="730" y1="686.5" x2="732.4" y2="686.5" stroke="#9a9a9a" stroke-width="1" />
<rect x="156.6" y="699.5" width="206.4" height="115.3" fill="#ffffff" stroke="#9a9a9a" stroke-width="1" />
<rect x="188.5" y="732.4" width="143.0" height="178.6" fill="#ffffff" stroke="#777" stroke-width="1.1" />
<rect x="191.5" y="735.5" width="137.0" height="172.5" fill="#ffffff" stroke="#777" stroke-width="1.1" />
<path d="M195.5,869 Q225,867 258,869 L258,903.5 Q225,905 195.5,903.5 Z" fill="#ffffff" stroke="#8a8a8a" stroke-width="1" />
<path d="M261,869 Q293,867 325,869 L325,903.5 Q293,905 261,903.5 Z" fill="#ffffff" stroke="#8a8a8a" stroke-width="1" />
<path d="M225,870 C260,862 300,845 318,825 C325,815 330,805 333,798 C336,810 340,825 346,838 L338,845 L340,860 C330,866 300,870 270,871 Z" fill="#ffffff" stroke="#8a8a8a" stroke-width="1" />
<path d="M280,870 C300,860 318,845 327,835 C333,836 336,846 338,858" fill="none" stroke="#999" stroke-width="0.9" />
<rect x="136.6" y="865.6" width="47.1" height="42.4" fill="#ffffff" stroke="#8a8a8a" stroke-width="1" />
<circle cx="160.14999999999998" cy="886.8" r="14.415999999999993" fill="#ffffff" stroke="#6f6f6f" stroke-width="1.1"/>
<circle cx="160.14999999999998" cy="886.8" r="5.478079999999998" fill="none" stroke="#9a9a9a" stroke-width="2.2"/>
<line x1="145.73399999999998" y1="886.8" x2="174.56599999999997" y2="886.8" stroke="#7a7a7a" stroke-width="0.9" />
<line x1="160.14999999999998" y1="872.384" x2="160.14999999999998" y2="901.2159999999999" stroke="#7a7a7a" stroke-width="0.9" />
<rect x="337" y="865.6" width="47" height="42.4" fill="#ffffff" stroke="#8a8a8a" stroke-width="1" />
<circle cx="360.5" cy="886.8" r="14.415999999999993" fill="#ffffff" stroke="#6f6f6f" stroke-width="1.1"/>
<circle cx="360.5" cy="886.8" r="5.478079999999998" fill="none" stroke="#9a9a9a" stroke-width="2.2"/>
<line x1="346.084" y1="886.8" x2="374.916" y2="886.8" stroke="#7a7a7a" stroke-width="0.9" />
<line x1="360.5" y1="872.384" x2="360.5" y2="901.2159999999999" stroke="#7a7a7a" stroke-width="0.9" />
<rect x="137" y="912" width="247.3" height="10" fill="#ffffff" stroke="#9a9a9a" stroke-width="1" />
<rect x="440.8" y="756.6" width="55.2" height="163.4" fill="#ffffff" stroke="#7a7a7a" stroke-width="1.2" />
<rect x="443.3" y="758.6" width="50.2" height="159.4" fill="none" stroke="#c8c8c8" stroke-width="0.8" />
<path d="M446.8,764.1 Q462.4,768.6 468.4,768.6 Q474.4,768.6 490,764.1 M446.8,773.7 Q462.4,778.2 468.4,778.2 Q474.4,778.2 490,773.7 M446.8,783.3 Q462.4,787.8 468.4,787.8 Q474.4,787.8 490,783.3 M446.8,792.9 Q462.4,797.4 468.4,797.4 Q474.4,797.4 490,792.9 M446.8,802.5 Q462.4,807.0 468.4,807.0 Q474.4,807.0 490,802.5 M446.8,812.1 Q462.4,816.6 468.4,816.6 Q474.4,816.6 490,812.1 M446.8,821.7 Q462.4,826.2 468.4,826.2 Q474.4,826.2 490,821.7 M446.8,831.3 Q462.4,835.8 468.4,835.8 Q474.4,835.8 490,831.3 M446.8,840.9 Q462.4,845.4 468.4,845.4 Q474.4,845.4 490,840.9 M446.8,850.5 Q462.4,855.0 468.4,855.0 Q474.4,855.0 490,850.5 M446.8,860.1 Q462.4,864.6 468.4,864.6 Q474.4,864.6 490,860.1 M446.8,869.7 Q462.4,874.2 468.4,874.2 Q474.4,874.2 490,869.7 M446.8,879.3 Q462.4,883.8 468.4,883.8 Q474.4,883.8 490,879.3 M446.8,888.9 Q462.4,893.4 468.4,893.4 Q474.4,893.4 490,888.9 M446.8,898.5 Q462.4,903.0 468.4,903.0 Q474.4,903.0 490,898.5 M446.8,908.1 Q462.4,912.6 468.4,912.6 Q474.4,912.6 490,908.1 " fill="none" stroke="#e6e6e6" stroke-width="2.6" />
<line x1="468.4" y1="759.6" x2="468.4" y2="917" stroke="#d8d8d8" stroke-width="0.8" stroke-dasharray="2,2"/>
<path d="M808.0,1084.0 A70,70 0 0 1 738.0,1014.0" fill="none" stroke="#8f8f8f" stroke-width="1" />
<rect x="728.5" y="1134" width="56.0" height="50.5" fill="#ffffff" stroke="#7a7a7a" stroke-width="1" />
<line x1="728.5" y1="1142" x2="784.5" y2="1142" stroke="#7a7a7a" stroke-width="1" />
<line x1="756.5" y1="1142" x2="756.5" y2="1176" stroke="#7a7a7a" stroke-width="1" />
<rect x="731" y="1142" width="23" height="34" fill="#ffffff" stroke="#8a8a8a" stroke-width="0.8" />
<rect x="759" y="1142" width="23" height="34" fill="#ffffff" stroke="#8a8a8a" stroke-width="0.8" />
<circle cx="735" cy="1138" r="1.8" fill="#6a6a6a" stroke="none" stroke-width="1"/>
<circle cx="745" cy="1138" r="1.8" fill="#6a6a6a" stroke="none" stroke-width="1"/>
<circle cx="765" cy="1138" r="1.8" fill="#6a6a6a" stroke="none" stroke-width="1"/>
<circle cx="776" cy="1138" r="1.8" fill="#6a6a6a" stroke="none" stroke-width="1"/>
<line x1="728.5" y1="1178" x2="784.5" y2="1178" stroke="#8a8a8a" stroke-width="0.8" />
<line x1="699.5" y1="1014" x2="699.5" y2="1186" stroke="#6a6a6a" stroke-width="2" />
<rect x="822" y="957" width="285" height="56" fill="#ffffff" stroke="#9a9a9a" stroke-width="1" />
<rect x="837.6" y="959" width="84.4" height="48.8" fill="#ffffff" stroke="#7a7a7a" stroke-width="1" />
<rect x="844" y="966" width="41" height="34" rx="7" fill="#ffffff" stroke="#8a8a8a" stroke-width="1"/>
<circle cx="865" cy="984" r="4" fill="none" stroke="#8a8a8a" stroke-width="1"/>
<line x1="887" y1="968" x2="918" y2="968" stroke="#9a9a9a" stroke-width="0.8" />
<line x1="887" y1="971.2" x2="918" y2="971.2" stroke="#9a9a9a" stroke-width="0.8" />
<line x1="887" y1="974.4000000000001" x2="918" y2="974.4000000000001" stroke="#9a9a9a" stroke-width="0.8" />
<line x1="887" y1="977.6000000000001" x2="918" y2="977.6000000000001" stroke="#9a9a9a" stroke-width="0.8" />
<line x1="887" y1="980.8000000000002" x2="918" y2="980.8000000000002" stroke="#9a9a9a" stroke-width="0.8" />
<line x1="887" y1="984.0000000000002" x2="918" y2="984.0000000000002" stroke="#9a9a9a" stroke-width="0.8" />
<line x1="887" y1="987.2000000000003" x2="918" y2="987.2000000000003" stroke="#9a9a9a" stroke-width="0.8" />
<line x1="887" y1="990.4000000000003" x2="918" y2="990.4000000000003" stroke="#9a9a9a" stroke-width="0.8" />
<line x1="887" y1="993.6000000000004" x2="918" y2="993.6000000000004" stroke="#9a9a9a" stroke-width="0.8" />
<line x1="887" y1="996.8000000000004" x2="918" y2="996.8000000000004" stroke="#9a9a9a" stroke-width="0.8" />
<rect x="1008" y="957" width="94" height="60" fill="#ffffff" stroke="#8a8a8a" stroke-width="1" />
<line x1="1008" y1="1009" x2="1102" y2="1009" stroke="#8a8a8a" stroke-width="1" />
<line x1="1055" y1="1009" x2="1055" y2="1016" stroke="#8a8a8a" stroke-width="1" />
<rect x="1008" y="959" width="94" height="48" fill="none" stroke="#a0a0a0" stroke-width="0.7" />
<rect x="822" y="1130.6" width="285" height="55.9" fill="#ffffff" stroke="#9a9a9a" stroke-width="1" />
<rect x="934.6" y="1134.8" width="59.4" height="47.7" fill="#ffffff" stroke="#7a7a7a" stroke-width="1" />
<line x1="948" y1="1135" x2="948" y2="1182" stroke="#9a9a9a" stroke-width="0.8" />
<line x1="969" y1="1135" x2="969" y2="1182" stroke="#9a9a9a" stroke-width="0.8" />
<line x1="948" y1="1158" x2="994" y2="1158" stroke="#9a9a9a" stroke-width="0.8" />
<circle cx="958" cy="1147" r="4" fill="none" stroke="#6a6a6a" stroke-width="1.1"/>
<circle cx="958" cy="1147" r="1.8" fill="none" stroke="#6a6a6a" stroke-width="0.9"/>
<circle cx="981" cy="1147" r="4" fill="none" stroke="#6a6a6a" stroke-width="1.1"/>
<circle cx="981" cy="1147" r="1.8" fill="none" stroke="#6a6a6a" stroke-width="0.9"/>
<circle cx="958" cy="1169" r="5" fill="none" stroke="#6a6a6a" stroke-width="1.1"/>
<circle cx="958" cy="1169" r="1.8" fill="none" stroke="#6a6a6a" stroke-width="0.9"/>
<circle cx="981" cy="1169" r="5.5" fill="none" stroke="#6a6a6a" stroke-width="1.1"/>
<circle cx="981" cy="1169" r="1.8" fill="none" stroke="#6a6a6a" stroke-width="0.9"/>
<circle cx="940" cy="1141" r="1.2" fill="#6a6a6a" stroke="none" stroke-width="1"/>
<circle cx="940" cy="1148" r="1.2" fill="#6a6a6a" stroke="none" stroke-width="1"/>
<circle cx="940" cy="1155" r="1.2" fill="#6a6a6a" stroke="none" stroke-width="1"/>
<circle cx="940" cy="1162" r="1.2" fill="#6a6a6a" stroke="none" stroke-width="1"/>
<line x1="1030.6" y1="1108.5" x2="1107" y2="1108.5" stroke="#9a9a9a" stroke-width="1" />
<rect x="1030.6" y="1107" width="76.4" height="3.5" fill="#ffffff" stroke="#9a9a9a" stroke-width="0.8" />
<path d="M1030.5,1108.5 A76.5,76.5 0 0 1 1107.0,1032.0" fill="none" stroke="#8f8f8f" stroke-width="1" />
<path d="M1143.9,1215.9 A83,83 0 0 1 1225.6,1118.5" fill="none" stroke="#8f8f8f" stroke-width="1" />
<rect x="1223.8" y="1118.6" width="5.4" height="83.6" fill="#ffffff" stroke="#8a8a8a" stroke-width="0.9" />
<rect x="1228.6" y="1202.2" width="6.4" height="13.8" fill="#ffffff" stroke="#8a8a8a" stroke-width="0.8" />
<line x1="122" y1="124.6" x2="445" y2="124.6" stroke="#8a8a8a" stroke-width="1.1" />
<line x1="628" y1="152" x2="913" y2="152" stroke="#8a8a8a" stroke-width="1.2" />
<line x1="52.5" y1="638" x2="52.5" y2="867" stroke="#8a8a8a" stroke-width="1.2" />
<rect x="136" y="166" width="309" height="15.5" fill="#f4fefd" stroke="none" stroke-width="1" />
<rect x="136" y="167.5" width="309" height="12.5" fill="#e6fbfa" stroke="none" stroke-width="1" />
<line x1="136" y1="171.425" x2="445" y2="171.425" stroke="#9cc8c6" stroke-width="1.4" />
<line x1="136" y1="176.385" x2="445" y2="176.385" stroke="#a6d2d2" stroke-width="1.4" />
<line x1="136" y1="166.8" x2="445" y2="166.8" stroke="#8e8e94" stroke-width="1.6" />
<line x1="136" y1="180.7" x2="445" y2="180.7" stroke="#8e8e9a" stroke-width="1.6" />
<rect x="495" y="166" width="71" height="15.5" fill="#f4fefd" stroke="none" stroke-width="1" />
<rect x="495" y="167.5" width="71" height="12.5" fill="#e6fbfa" stroke="none" stroke-width="1" />
<line x1="495" y1="171.425" x2="566" y2="171.425" stroke="#9cc8c6" stroke-width="1.4" />
<line x1="495" y1="176.385" x2="566" y2="176.385" stroke="#a6d2d2" stroke-width="1.4" />
<line x1="495" y1="166.8" x2="566" y2="166.8" stroke="#8e8e94" stroke-width="1.6" />
<line x1="495" y1="180.7" x2="566" y2="180.7" stroke="#8e8e9a" stroke-width="1.6" />
<rect x="628" y="194" width="285" height="15" fill="#f4fefd" stroke="none" stroke-width="1" />
<rect x="628" y="195.5" width="285" height="12.0" fill="#e6fbfa" stroke="none" stroke-width="1" />
<line x1="628" y1="199.25" x2="913" y2="199.25" stroke="#9cc8c6" stroke-width="1.4" />
<line x1="628" y1="204.05" x2="913" y2="204.05" stroke="#a6d2d2" stroke-width="1.4" />
<line x1="628" y1="194.8" x2="913" y2="194.8" stroke="#8e8e94" stroke-width="1.6" />
<line x1="628" y1="208.2" x2="913" y2="208.2" stroke="#8e8e9a" stroke-width="1.6" />
<rect x="962" y="194" width="273" height="14.5" fill="#f2fbfe" stroke="none" stroke-width="1" />
<rect x="962" y="198.35" width="273" height="7.25" fill="#dff3fa" stroke="none" stroke-width="1" />
<line x1="962" y1="200.09" x2="1235" y2="200.09" stroke="#93cde4" stroke-width="2.6" />
<line x1="962" y1="194.8" x2="1235" y2="194.8" stroke="#8e8e94" stroke-width="1.5" />
<line x1="962" y1="207.7" x2="1235" y2="207.7" stroke="#8e8e9a" stroke-width="1.5" />
<rect x="982" y="330.5" width="253" height="14.5" fill="#f2fbfe" stroke="none" stroke-width="1" />
<rect x="982" y="334.85" width="253" height="7.25" fill="#dff3fa" stroke="none" stroke-width="1" />
<line x1="982" y1="336.59" x2="1235" y2="336.59" stroke="#93cde4" stroke-width="2.6" />
<line x1="982" y1="331.3" x2="1235" y2="331.3" stroke="#8e8e94" stroke-width="1.5" />
<line x1="982" y1="344.2" x2="1235" y2="344.2" stroke="#8e8e9a" stroke-width="1.5" />
<rect x="116" y="452" width="14" height="71" fill="#f4fefd" stroke="none" stroke-width="1" />
<rect x="117.5" y="452" width="11.0" height="71" fill="#e6fbfa" stroke="none" stroke-width="1" />
<line x1="120.9" y1="452" x2="120.9" y2="523" stroke="#9cc8c6" stroke-width="1.4" />
<line x1="125.38" y1="452" x2="125.38" y2="523" stroke="#a6d2d2" stroke-width="1.4" />
<line x1="116.8" y1="452" x2="116.8" y2="523" stroke="#8e8e94" stroke-width="1.6" />
<line x1="129.2" y1="452" x2="129.2" y2="523" stroke="#8e8e9a" stroke-width="1.6" />
<rect x="94.5" y="452" width="21.5" height="71" fill="#ffffff" stroke="none" stroke-width="1" />
<line x1="94.5" y1="452" x2="94.5" y2="523" stroke="#aaaaaa" stroke-width="1" />
<rect x="94.5" y="638" width="14.5" height="229" fill="#f4fefd" stroke="none" stroke-width="1" />
<rect x="96.0" y="638" width="11.5" height="229" fill="#e6fbfa" stroke="none" stroke-width="1" />
<line x1="99.575" y1="638" x2="99.575" y2="867" stroke="#9cc8c6" stroke-width="1.4" />
<line x1="104.215" y1="638" x2="104.215" y2="867" stroke="#a6d2d2" stroke-width="1.4" />
<line x1="95.3" y1="638" x2="95.3" y2="867" stroke="#8e8e94" stroke-width="1.6" />
<line x1="108.2" y1="638" x2="108.2" y2="867" stroke="#8e8e9a" stroke-width="1.6" />
<rect x="550" y="922" width="70" height="14" fill="#f4fefd" stroke="none" stroke-width="1" />
<rect x="550" y="923.5" width="70" height="11.0" fill="#e6fbfa" stroke="none" stroke-width="1" />
<line x1="550" y1="926.9" x2="620" y2="926.9" stroke="#9cc8c6" stroke-width="1.4" />
<line x1="550" y1="931.38" x2="620" y2="931.38" stroke="#a6d2d2" stroke-width="1.4" />
<line x1="550" y1="922.8" x2="620" y2="922.8" stroke="#8e8e94" stroke-width="1.6" />
<line x1="550" y1="935.2" x2="620" y2="935.2" stroke="#8e8e9a" stroke-width="1.6" />
<rect x="690" y="922" width="70" height="14" fill="#f4fefd" stroke="none" stroke-width="1" />
<rect x="690" y="923.5" width="70" height="11.0" fill="#e6fbfa" stroke="none" stroke-width="1" />
<line x1="690" y1="926.9" x2="760" y2="926.9" stroke="#9cc8c6" stroke-width="1.4" />
<line x1="690" y1="931.38" x2="760" y2="931.38" stroke="#a6d2d2" stroke-width="1.4" />
<line x1="690" y1="922.8" x2="760" y2="922.8" stroke="#8e8e94" stroke-width="1.6" />
<line x1="690" y1="935.2" x2="760" y2="935.2" stroke="#8e8e9a" stroke-width="1.6" />
<rect x="94.5" y="119.5" width="28.0" height="46.5" fill="#e2e3e5" stroke="#5a5d66" stroke-width="1.2" />
<polygon points="445,17 473,17 473,45.5 459,45.5 459,166 445,166" fill="#e2e3e5" stroke="#5a5d66" stroke-width="1"/>
<polygon points="599,17 628,17 628,166 613,166 613,45.5 599,45.5" fill="#e2e3e5" stroke="#5a5d66" stroke-width="1"/>
<rect x="445" y="166" width="50" height="14" fill="#e2e3e5" stroke="#5a5d66" stroke-width="1.2" />
<rect x="566" y="166" width="40" height="14" fill="#e2e3e5" stroke="#5a5d66" stroke-width="1.2" />
<rect x="450" y="180" width="9.5" height="239" fill="#e2e3e5" stroke="#5a5d66" stroke-width="1.2" />
<rect x="529" y="410" width="77" height="9" fill="#e2e3e5" stroke="#5a5d66" stroke-width="1.2" />
<rect x="130" y="580" width="392.7" height="10" fill="#e2e3e5" stroke="#5a5d66" stroke-width="1.2" />
<rect x="913" y="344" width="9" height="246" fill="#e2e3e5" stroke="#5a5d66" stroke-width="1.2" />
<rect x="711" y="581.6" width="211" height="8.4" fill="#e2e3e5" stroke="#5a5d66" stroke-width="1.2" />
<rect x="955" y="331" width="27" height="13" fill="#e2e3e5" stroke="#5a5d66" stroke-width="1.2" />
<rect x="1235" y="185.5" width="15" height="1031.0" fill="#e2e3e5" stroke="#5a5d66" stroke-width="1.2" />
<rect x="913" y="148" width="28" height="46" fill="#e2e3e5" stroke="#5a5d66" stroke-width="1.2" />
<rect x="47.6" y="610" width="46.9" height="28.8" fill="#e2e3e5" stroke="#5a5d66" stroke-width="1.2" />
<rect x="47.6" y="867" width="46.9" height="28.7" fill="#e2e3e5" stroke="#5a5d66" stroke-width="1.2" />
<polygon points="496,677 662.6,677 662.6,922 648,922 648,687 496,687" fill="#e2e3e5" stroke="#5a5d66" stroke-width="1"/>
<rect x="496" y="755" width="10" height="167" fill="#e2e3e5" stroke="#5a5d66" stroke-width="1.2" />
<rect x="732.4" y="677" width="73.2" height="9.5" fill="#e2e3e5" stroke="#5a5d66" stroke-width="1.2" />
<rect x="620" y="922" width="70.5" height="14" fill="#e2e3e5" stroke="#5a5d66" stroke-width="1.2" />
<rect x="505.5" y="957" width="14.5" height="56.5" fill="#e2e3e5" stroke="#5a5d66" stroke-width="1.2" />
<rect x="808" y="957" width="14" height="57" fill="#e2e3e5" stroke="#5a5d66" stroke-width="1.2" />
<rect x="808" y="1128" width="14" height="58.5" fill="#e2e3e5" stroke="#5a5d66" stroke-width="1.2" />
<rect x="806" y="1014" width="18" height="74" fill="#e4ebf6" stroke="none" stroke-width="1" />
<line x1="808" y1="1014" x2="808" y2="1088" stroke="#9a9a9a" stroke-width="0.8" />
<rect x="808" y="1088" width="14" height="40" fill="#f4fefd" stroke="none" stroke-width="1" />
<rect x="809.5" y="1088" width="11.0" height="40" fill="#e6fbfa" stroke="none" stroke-width="1" />
<line x1="812.9" y1="1088" x2="812.9" y2="1128" stroke="#9cc8c6" stroke-width="1.4" />
<line x1="817.38" y1="1088" x2="817.38" y2="1128" stroke="#a6d2d2" stroke-width="1.4" />
<line x1="808.8" y1="1088" x2="808.8" y2="1128" stroke="#8e8e94" stroke-width="1.6" />
<line x1="821.2" y1="1088" x2="821.2" y2="1128" stroke="#8e8e9a" stroke-width="1.6" />
<rect x="693" y="1000" width="31" height="13.5" fill="#e2e3e5" stroke="#5a5d66" stroke-width="1.2" />
<rect x="790.7" y="1000" width="17.3" height="13.5" fill="#e2e3e5" stroke="#5a5d66" stroke-width="1.2" />
<rect x="693" y="1013.5" width="14" height="173.0" fill="#ffffff" stroke="#7a7a7a" stroke-width="1" />
<line x1="700.5" y1="1013.5" x2="700.5" y2="1186.5" stroke="#6a6a6a" stroke-width="2.4" />
<rect x="1107" y="957" width="15" height="73" fill="#e2e3e5" stroke="#5a5d66" stroke-width="1.2" />
<rect x="1107" y="1113" width="15" height="73.5" fill="#e2e3e5" stroke="#5a5d66" stroke-width="1.2" />
<rect x="1121" y="1202.6" width="19" height="13.8" fill="#e2e3e5" stroke="#5a5d66" stroke-width="1.2" />
<polygon points="94.5,166 136,166 136,180 130,180 130,452.6 94.5,452.6" fill="#b0b0b0" stroke="#3a3a3a" stroke-width="1.4"/>
<rect x="94.5" y="522.8" width="35.5" height="116.0" fill="#b0b0b0" stroke="#3a3a3a" stroke-width="1.4" />
<polygon points="94.5,867 130,867 130,922 550.7,922 550.7,957.4 349,957.4 349,1021.6 314,1021.6 314,957.4 94.5,957.4" fill="#b0b0b0" stroke="#3a3a3a" stroke-width="1.4"/>
<rect x="606.5" y="166" width="21.5" height="424" fill="#b0b0b0" stroke="#3a3a3a" stroke-width="1.4" />
<polygon points="913,194 962,194 962,209 955,209 955,344 913,344" fill="#b0b0b0" stroke="#3a3a3a" stroke-width="1.4"/>
<polygon points="805.6,677 831.4,677 831.4,922 1122,922 1122,957.4 760.6,957.4 760.6,922 805.6,922" fill="#b0b0b0" stroke="#3a3a3a" stroke-width="1.4"/>
<rect x="602" y="1186.5" width="520" height="29.9" fill="#b0b0b0" stroke="#3a3a3a" stroke-width="1.4" />
<path d="M318.5,66 C340,140 362,250 356,340 C350,420 300,478 230,494 C160,508 100,497 52,487" fill="none" stroke="#e6896b" stroke-width="1.1" stroke-dasharray="7,5"/>
<path d="M316,56.3 L301.8,87.1 L308.2,88.4 L316.5,63 Z" fill="none" stroke="#df8a6c" stroke-width="1.1" />
<path d="M316,56.3 L343.2,76.6 L339.5,80 L317,62 Z" fill="none" stroke="#df8a6c" stroke-width="1.1" />
<path d="M46,486 L77,473 L76,469 Z M46,486 L66,512 L70,510 Z" fill="none" stroke="#df8a6c" stroke-width="1.1" />
<text transform="translate(276.3,150.4) scale(0.75,1)" text-anchor="middle" font-size="20.8" font-weight="normal" fill="#262626" stroke="#262626" stroke-width="0.55">CHAJJA</text>
<text transform="translate(766.5,178) scale(0.75,1)" text-anchor="middle" font-size="20.8" font-weight="normal" fill="#262626" stroke="#262626" stroke-width="0.55">CHAJJA</text>
<text transform="translate(67.7,748) rotate(90) scale(0.75,1)" text-anchor="middle" font-size="20.8" font-weight="normal" fill="#262626" stroke="#262626" stroke-width="0.55">CHAJJA</text>
<text transform="translate(269.5,303.4) scale(0.745,1)" text-anchor="middle" font-size="17" font-weight="normal" fill="#262626" stroke="#262626" stroke-width="0.55">M.BEDROOM</text>
<text transform="translate(267.4,321.8) scale(0.745,1)" text-anchor="middle" font-size="17" font-weight="normal" fill="#262626" stroke="#262626" stroke-width="0.55">3.43 X 4.28</text>
<text transform="translate(267.2,340.2) scale(0.745,1)" text-anchor="middle" font-size="17" font-weight="normal" fill="#262626" stroke="#262626" stroke-width="0.55">11'3&quot; X 14'0&quot;</text>
<text transform="translate(267.3,358.6) scale(0.745,1)" text-anchor="middle" font-size="17" font-weight="normal" fill="#262626" stroke="#262626" stroke-width="0.55">189 sq.ft.</text>
<text transform="translate(522.2,213) scale(0.745,1)" text-anchor="middle" font-size="17" font-weight="normal" fill="#262626" stroke="#262626" stroke-width="0.55">M.TOILET</text>
<text transform="translate(522.2,231.2) scale(0.745,1)" text-anchor="middle" font-size="17" font-weight="normal" fill="#262626" stroke="#262626" stroke-width="0.55">1.58 X 2.45</text>
<text transform="translate(522.2,249.6) scale(0.745,1)" text-anchor="middle" font-size="17" font-weight="normal" fill="#262626" stroke="#262626" stroke-width="0.55">5'2&quot; X 8'0&quot;</text>
<text transform="translate(504.7,492.8) scale(0.745,1)" text-anchor="middle" font-size="17" font-weight="normal" fill="#262626" stroke="#262626" stroke-width="0.55">1.68 X 1.73</text>
<text transform="translate(504.7,511.4) scale(0.745,1)" text-anchor="middle" font-size="17" font-weight="normal" fill="#262626" stroke="#262626" stroke-width="0.55">5'6&quot; X 5'8&quot;</text>
<text transform="translate(773,323.5) scale(0.745,1)" text-anchor="middle" font-size="17" font-weight="normal" fill="#262626" stroke="#262626" stroke-width="0.55">BEDROOM-01</text>
<text transform="translate(770.3,342.3) scale(0.745,1)" text-anchor="middle" font-size="17" font-weight="normal" fill="#262626" stroke="#262626" stroke-width="0.55">3.05 X 3.98</text>
<text transform="translate(770.3,361.1) scale(0.745,1)" text-anchor="middle" font-size="17" font-weight="normal" fill="#262626" stroke="#262626" stroke-width="0.55">10'0&quot; X 13'0&quot;</text>
<text transform="translate(770.3,379.9) scale(0.745,1)" text-anchor="middle" font-size="17" font-weight="normal" fill="#262626" stroke="#262626" stroke-width="0.55">130 sq.ft.</text>
<text transform="translate(1068.2,251.9) scale(0.745,1)" text-anchor="middle" font-size="17" font-weight="normal" fill="#262626" stroke="#262626" stroke-width="0.55">DECK</text>
<text transform="translate(1068.2,270.7) scale(0.745,1)" text-anchor="middle" font-size="17" font-weight="normal" fill="#262626" stroke="#262626" stroke-width="0.55">3.00 X 1.30</text>
<text transform="translate(1068.2,289.5) scale(0.745,1)" text-anchor="middle" font-size="17" font-weight="normal" fill="#262626" stroke="#262626" stroke-width="0.55">9'10&quot; X 4'3&quot;</text>
<text transform="translate(1102,658.1) scale(0.745,1)" text-anchor="middle" font-size="17" font-weight="normal" fill="#262626" stroke="#262626" stroke-width="0.55">LIVING &amp; DINING</text>
<text transform="translate(1102,677.2) scale(0.745,1)" text-anchor="middle" font-size="17" font-weight="normal" fill="#262626" stroke="#262626" stroke-width="0.55">3.35 X 6.18</text>
<text transform="translate(1102,696) scale(0.745,1)" text-anchor="middle" font-size="17" font-weight="normal" fill="#262626" stroke="#262626" stroke-width="0.55">11'0&quot; X 20'3&quot;</text>
<text transform="translate(1102,714.8) scale(0.745,1)" text-anchor="middle" font-size="17" font-weight="normal" fill="#262626" stroke="#262626" stroke-width="0.55">260 sq.ft.</text>
<text transform="translate(678.6,643) scale(0.76,1)" text-anchor="middle" font-size="17" font-weight="normal" fill="#262626" stroke="#262626" stroke-width="0.55">0.93M (3'0&quot;) WIDE PASSAGE</text>
<text transform="translate(269.5,760.4) scale(0.745,1)" text-anchor="middle" font-size="17" font-weight="normal" fill="#262626" stroke="#262626" stroke-width="0.55">BEDROOM-02</text>
<text transform="translate(263.5,779.2) scale(0.745,1)" text-anchor="middle" font-size="17" font-weight="normal" fill="#262626" stroke="#262626" stroke-width="0.55">4.15 X 3.55</text>
<text transform="translate(263.5,798) scale(0.745,1)" text-anchor="middle" font-size="17" font-weight="normal" fill="#262626" stroke="#262626" stroke-width="0.55">13'7&quot; X 11'8&quot;</text>
<text transform="translate(263.5,816.8) scale(0.745,1)" text-anchor="middle" font-size="17" font-weight="normal" fill="#262626" stroke="#262626" stroke-width="0.55">157 sq.ft.</text>
<text transform="translate(564.8,854.4) scale(0.745,1)" text-anchor="middle" font-size="17" font-weight="normal" fill="#262626" stroke="#262626" stroke-width="0.55">TOILET-2</text>
<text transform="translate(564.8,873.2) scale(0.745,1)" text-anchor="middle" font-size="17" font-weight="normal" fill="#262626" stroke="#262626" stroke-width="0.55">1.53 X 2.53</text>
<text transform="translate(564.8,892) scale(0.745,1)" text-anchor="middle" font-size="17" font-weight="normal" fill="#262626" stroke="#262626" stroke-width="0.55">5'0&quot; X 8'3&quot;</text>
<text transform="translate(722,854.4) scale(0.745,1)" text-anchor="middle" font-size="17" font-weight="normal" fill="#262626" stroke="#262626" stroke-width="0.55">TOILET-1</text>
<text transform="translate(722,873.2) scale(0.745,1)" text-anchor="middle" font-size="17" font-weight="normal" fill="#262626" stroke="#262626" stroke-width="0.55">1.53 X 2.53</text>
<text transform="translate(722,892) scale(0.745,1)" text-anchor="middle" font-size="17" font-weight="normal" fill="#262626" stroke="#262626" stroke-width="0.55">5'0&quot; X 8'3&quot;</text>
<text transform="translate(753,1081.7) scale(0.745,1)" text-anchor="middle" font-size="17" font-weight="normal" fill="#262626" stroke="#262626" stroke-width="0.55">UTILITY</text>
<text transform="translate(753,1100.5) scale(0.745,1)" text-anchor="middle" font-size="17" font-weight="normal" fill="#262626" stroke="#262626" stroke-width="0.55">1.08 X 1.85</text>
<text transform="translate(753,1119.8) scale(0.745,1)" text-anchor="middle" font-size="17" font-weight="normal" fill="#262626" stroke="#262626" stroke-width="0.55">3'6&quot; X 6'1&quot;</text>
<text transform="translate(958.6,1048.4) scale(0.745,1)" text-anchor="middle" font-size="17" font-weight="normal" fill="#262626" stroke="#262626" stroke-width="0.55">KITCHEN</text>
<text transform="translate(958.6,1067.2) scale(0.745,1)" text-anchor="middle" font-size="17" font-weight="normal" fill="#262626" stroke="#262626" stroke-width="0.55">3.05 X 2.45</text>
<text transform="translate(958.6,1086) scale(0.745,1)" text-anchor="middle" font-size="17" font-weight="normal" fill="#262626" stroke="#262626" stroke-width="0.55">10'0&quot; X 8'0&quot;</text>
<text transform="translate(958.6,1104.8) scale(0.745,1)" text-anchor="middle" font-size="17" font-weight="normal" fill="#262626" stroke="#262626" stroke-width="0.55">80 sq.ft.</text>
<text transform="translate(1181,1052.8) scale(0.745,1)" text-anchor="middle" font-size="17" font-weight="normal" fill="#262626" stroke="#262626" stroke-width="0.55">FOYER</text>
<text transform="translate(1181,1071) scale(0.745,1)" text-anchor="middle" font-size="17" font-weight="normal" fill="#262626" stroke="#262626" stroke-width="0.55">1.23 X 3.00</text>
<text transform="translate(1181,1089.9) scale(0.745,1)" text-anchor="middle" font-size="17" font-weight="normal" fill="#262626" stroke="#262626" stroke-width="0.55">4'0&quot; X 9'10&quot;</text>
<text transform="translate(891,800) rotate(-90) scale(0.745,1)" text-anchor="middle" font-size="17" font-weight="normal" fill="#262626" stroke="#262626" stroke-width="0.55">3.55 X 0.98</text>
<text transform="translate(910,800) rotate(-90) scale(0.745,1)" text-anchor="middle" font-size="17" font-weight="normal" fill="#262626" stroke="#262626" stroke-width="0.55">11'8&quot; X 3'2&quot;</text>
<text transform="translate(1189.5,1256) scale(0.76,1)" text-anchor="middle" font-size="20.5" font-weight="normal" fill="#262626" stroke="#262626" stroke-width="0.35">ENTRY</text>
<circle cx="1185.6" cy="1194.9" r="18.9" fill="none" stroke="#4a4a4a" stroke-width="1.1"/>
<polygon points="1182.4,1180.5 1186,1180.5 1186,1209.5 1182.4,1209.5 1182.4,1185 1177.5,1187.8 1177,1185.2" fill="#111" stroke="none" stroke-width="1"/>
<polygon points="1186.4,1217 1177,1238.6 1195.7,1238.6" fill="#f5461a" stroke="none" stroke-width="1"/>
<text transform="translate(1073,3) scale(0.8,1)" text-anchor="start" font-size="24" font-weight="bold" fill="#222" stroke="#222" stroke-width="0">TOTAL AREA C/A + EXCLUSIVE</text>
</svg></body></html>
